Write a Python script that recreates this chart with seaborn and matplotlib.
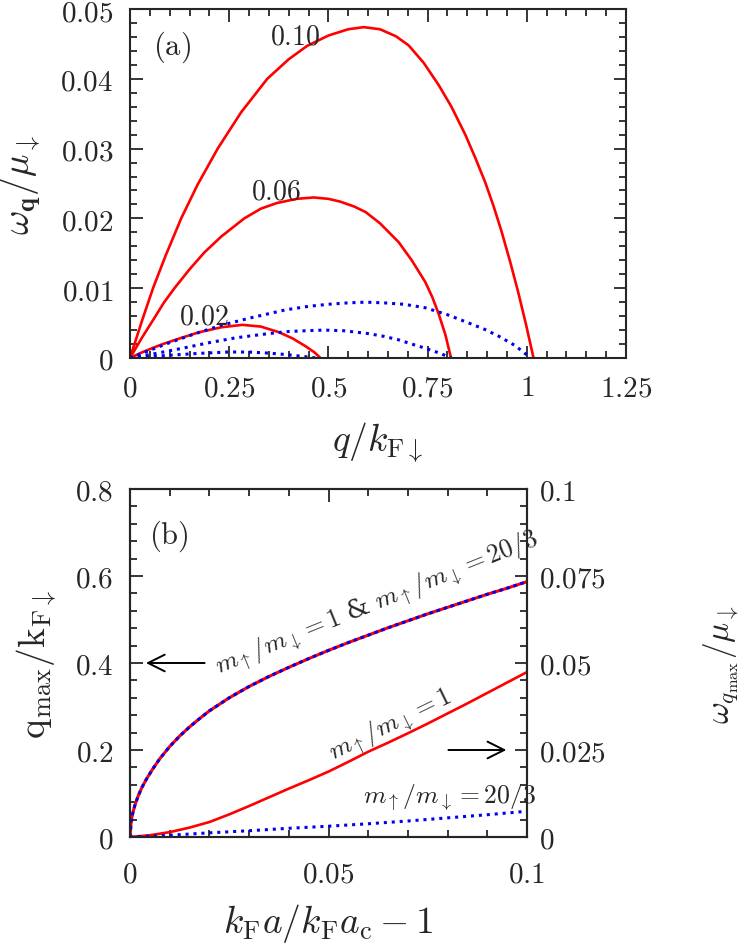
import matplotlib
matplotlib.use("Agg")
import matplotlib.pyplot as plt
import seaborn as sns
from matplotlib.ticker import MultipleLocator, FuncFormatter

# ---- panel (a): dispersion omega_q / mu_down vs q / k_F_down ----
# red solid: m_up/m_down = 1, labelled by k_F a / k_F a_c - 1
q_010 = [0, 0.03, 0.058, 0.09, 0.129, 0.17, 0.221, 0.28, 0.346, 0.40, 0.446, 0.50, 0.55, 0.589,
         0.63, 0.67, 0.702, 0.74, 0.778, 0.81, 0.845, 0.87, 0.895, 0.916, 0.936, 0.958, 0.978, 0.998, 1.017]
w_010 = [0, 0.0053, 0.0100, 0.0147, 0.0200, 0.0248, 0.0300, 0.0352, 0.0400, 0.0428, 0.0447, 0.0462, 0.0471, 0.0474,
         0.0471, 0.0461, 0.0448, 0.0423, 0.0391, 0.0360, 0.0320, 0.0287, 0.0252, 0.0218, 0.0182, 0.0138, 0.0095, 0.0048, 0.0]
q_006 = [0, 0.03, 0.06, 0.085, 0.112, 0.15, 0.187, 0.23, 0.288, 0.33, 0.37, 0.42, 0.463, 0.50, 0.53,
         0.565, 0.594, 0.63, 0.677, 0.71, 0.744, 0.762, 0.778, 0.795, 0.809]
w_006 = [0, 0.0029, 0.0056, 0.0079, 0.0100, 0.0127, 0.0151, 0.0174, 0.0200, 0.0214, 0.0222, 0.0228, 0.0230, 0.0228, 0.0224,
         0.0217, 0.0209, 0.0193, 0.0166, 0.0140, 0.0109, 0.0087, 0.0063, 0.0033, 0.0]
q_002 = [0, 0.03, 0.06, 0.083, 0.13, 0.175, 0.23, 0.283, 0.33, 0.375, 0.41, 0.442, 0.465, 0.480]
w_002 = [0, 0.0008, 0.0015, 0.0020, 0.0029, 0.0037, 0.0044, 0.00475, 0.0045, 0.0037, 0.0028, 0.0017, 0.0008, 0.0]

# blue dotted: m_up/m_down = 20/3
q_b010 = [0, 0.05, 0.1, 0.16, 0.225, 0.3, 0.392, 0.45, 0.5, 0.55, 0.593, 0.64, 0.69, 0.744, 0.80, 0.85,
          0.894, 0.93, 0.97, 1.01]
w_b010 = [0, 0.0011, 0.0022, 0.0034, 0.0046, 0.0057, 0.0069, 0.0074, 0.0077, 0.0079, 0.0080, 0.0079, 0.0077, 0.0072,
          0.0062, 0.0051, 0.0041, 0.0031, 0.0018, 0.0]
q_b006 = [0, 0.07, 0.141, 0.2, 0.267, 0.35, 0.40, 0.442, 0.49, 0.54, 0.6, 0.64, 0.677, 0.71, 0.744, 0.78, 0.81]
w_b006 = [0, 0.0007, 0.0015, 0.0022, 0.0029, 0.0035, 0.0038, 0.0039, 0.0040, 0.0039, 0.0035, 0.0031, 0.0026, 0.0020,
          0.0014, 0.0007, 0.0]
q_b002 = [0, 0.05, 0.1, 0.17, 0.25, 0.30, 0.35, 0.392, 0.44, 0.47]
w_b002 = [0, 0.0002, 0.0004, 0.00065, 0.00086, 0.00085, 0.0007, 0.0005, 0.0002, 0.0]

# ---- panel (b): q_max (left axis) and omega_qmax (right axis) ----
x_qmax = [0, 0.0003, 0.0007, 0.0012, 0.002, 0.003, 0.0042, 0.0057, 0.0075, 0.01, 0.0125, 0.015, 0.0175, 0.02,
          0.025, 0.03, 0.035, 0.04, 0.045, 0.05, 0.055, 0.06, 0.065, 0.07, 0.075, 0.08, 0.085, 0.09, 0.095, 0.1]
qmax = [0, 0.036, 0.055, 0.072, 0.093, 0.114, 0.134, 0.156, 0.180, 0.208, 0.232, 0.253, 0.272, 0.290,
        0.320, 0.346, 0.369, 0.390, 0.410, 0.429, 0.447, 0.464, 0.481, 0.497, 0.513, 0.528, 0.543, 0.558, 0.572, 0.587]
x_w = [0, 0.005, 0.01, 0.015, 0.02, 0.025, 0.03, 0.035, 0.04, 0.045, 0.05, 0.055, 0.06, 0.065, 0.07, 0.075,
       0.08, 0.085, 0.09, 0.095, 0.1]
w_m1 = [0, 0.0005, 0.0014, 0.0027, 0.0043, 0.0065, 0.0089, 0.0114, 0.0139, 0.0163, 0.0188, 0.0216, 0.0245, 0.0271,
        0.0298, 0.0326, 0.0355, 0.0384, 0.0414, 0.0444, 0.0474]
x_w203 = [0, 0.01, 0.02, 0.03, 0.04, 0.05, 0.06, 0.07, 0.08, 0.09, 0.1]
w_m203 = [0, 0.0005, 0.0012, 0.0018, 0.0025, 0.0031, 0.0038, 0.0046, 0.0055, 0.0064, 0.0074]

RED = "#ff0000"
BLUE = "#0000ee"
DOT = (0, (1, 1.6))
TICK_FS = 21
LABEL_FS = 27
NOTE_FS = 18.5

sns.set_theme(style="ticks")
plt.rcParams["font.family"] = ["DejaVu Serif"]
plt.rcParams["mathtext.fontset"] = "cm"
plt.rcParams["axes.linewidth"] = 1.5

fmt = FuncFormatter(lambda v, _: "$0$" if abs(v) < 1e-12 else f"${v:g}$")

fig = plt.figure(figsize=(7.47, 9.45), dpi=100)
ax_a = fig.add_axes([130 / 747, 1 - 359 / 945, 496 / 747, 349 / 945])
ax_b = fig.add_axes([130 / 747, 1 - 838 / 945, 397 / 747, 348 / 945])


def style_ticks(ax, **kw):
    ax.tick_params(which="both", direction="in", width=1.3, labelsize=TICK_FS, **kw)
    ax.tick_params(which="major", length=9)
    ax.tick_params(which="minor", length=5)


def curve(ax, x, y, color, ls="-", lw=1.9):
    sns.lineplot(x=x, y=y, ax=ax, color=color, lw=lw, linestyle=ls,
                 estimator=None, sort=False, legend=False)


# panel (a)
for x, y in [(q_010, w_010), (q_006, w_006), (q_002, w_002)]:
    curve(ax_a, x, y, RED)
for x, y in [(q_b010, w_b010), (q_b006, w_b006), (q_b002, w_b002)]:
    curve(ax_a, x, y, BLUE, ls=DOT, lw=2.2)

ax_a.set_xlim(0, 1.25)
ax_a.set_ylim(0, 0.05)
ax_a.xaxis.set_major_locator(MultipleLocator(0.25))
ax_a.xaxis.set_minor_locator(MultipleLocator(0.05))
ax_a.yaxis.set_major_locator(MultipleLocator(0.01))
ax_a.yaxis.set_minor_locator(MultipleLocator(0.002))
ax_a.xaxis.set_major_formatter(fmt)
ax_a.yaxis.set_major_formatter(fmt)
style_ticks(ax_a, top=True, right=True)
ax_a.tick_params(axis="x", pad=11)
ax_a.tick_params(axis="y", pad=12)
ax_a.set_xlabel(r"$q/k_{\mathrm{F}\downarrow}$", fontsize=LABEL_FS)
ax_a.set_ylabel(r"$\omega_{\mathbf{q}}/\mu_{\downarrow}$", fontsize=LABEL_FS)
ax_a.xaxis.set_label_coords(0.5, -0.175)
ax_a.yaxis.set_label_coords(-0.175, 0.5)
ax_a.text(0.107, 0.0447, r"$\mathrm{(a)}$", fontsize=22, ha="center", va="center")
ax_a.text(0.415, 0.0461, r"$0.10$", fontsize=20, ha="center", va="center")
ax_a.text(0.367, 0.0239, r"$0.06$", fontsize=20, ha="center", va="center")
ax_a.text(0.186, 0.0060, r"$0.02$", fontsize=20, ha="center", va="center")

# panel (b)
ax_r = ax_b.twinx()
curve(ax_b, x_qmax, qmax, RED, lw=2.2)
curve(ax_b, x_qmax, qmax, BLUE, ls=(0, (1.2, 1.2)), lw=2.2)
curve(ax_r, x_w, w_m1, RED)
curve(ax_r, x_w203, w_m203, BLUE, ls=DOT, lw=2.2)

ax_b.set_xlim(0, 0.1)
ax_b.set_ylim(0, 0.8)
ax_r.set_ylim(0, 0.1)
ax_b.xaxis.set_major_locator(MultipleLocator(0.05))
ax_b.xaxis.set_minor_locator(MultipleLocator(0.01))
ax_b.yaxis.set_major_locator(MultipleLocator(0.2))
ax_b.yaxis.set_minor_locator(MultipleLocator(0.04))
ax_r.yaxis.set_major_locator(MultipleLocator(0.025))
ax_r.yaxis.set_minor_locator(MultipleLocator(0.005))
for a in (ax_b, ax_r):
    a.xaxis.set_major_formatter(fmt)
    a.yaxis.set_major_formatter(fmt)
style_ticks(ax_b, top=True)
style_ticks(ax_r)
ax_b.tick_params(axis="x", pad=16)
ax_b.tick_params(axis="y", pad=12)
ax_r.tick_params(axis="y", pad=9)
ax_b.set_xlabel(r"$k_{\mathrm{F}}a/k_{\mathrm{F}}a_{\mathrm{c}}-1$", fontsize=LABEL_FS)
ax_b.set_ylabel(r"$\mathrm{q_{max}/k_{F\downarrow}}$", fontsize=LABEL_FS)
ax_r.set_ylabel(r"$\omega_{q_{\mathrm{max}}}/\mu_{\downarrow}$", fontsize=24, rotation=90)
ax_b.xaxis.set_label_coords(0.5, -0.185)
ax_b.yaxis.set_label_coords(-0.18, 0.5)
ax_r.yaxis.set_label_coords(1.44, 0.5)

ax_b.text(0.0622, 0.54, r"$m_{\uparrow}/m_{\downarrow}=1$ & $m_{\uparrow}/m_{\downarrow}=20/3$",
          fontsize=NOTE_FS, ha="center", va="center", rotation=22, rotation_mode="anchor")
ax_b.text(0.0655, 0.26, r"$m_{\uparrow}/m_{\downarrow}=1$",
          fontsize=NOTE_FS, ha="center", va="center", rotation=26, rotation_mode="anchor")
ax_b.text(0.0805, 0.093, r"$m_{\uparrow}/m_{\downarrow}=20/3$",
          fontsize=NOTE_FS, ha="center", va="center")
ax_b.text(0.0098, 0.693, r"$\mathrm{(b)}$", fontsize=22, ha="center", va="center")
ax_b.annotate("", xy=(0.0033, 0.4), xytext=(0.0195, 0.4),
              arrowprops=dict(arrowstyle="->", lw=1.4, color="black", mutation_scale=30))
ax_b.annotate("", xy=(0.0955, 0.2), xytext=(0.0795, 0.2),
              arrowprops=dict(arrowstyle="->", lw=1.4, color="black", mutation_scale=30))

fig.savefig("out.png", dpi=100)
